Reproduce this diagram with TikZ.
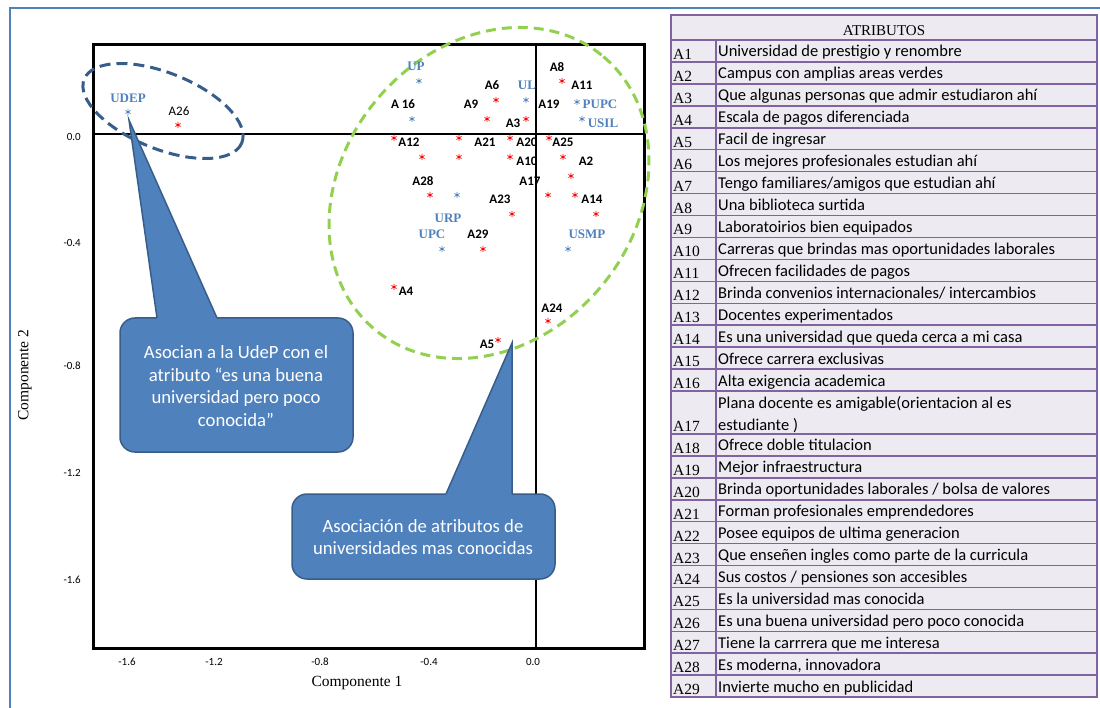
\documentclass[tikz,border=0pt]{standalone}
\usepackage{fontspec}
\setmainfont{Liberation Serif}
\newfontfamily\calibri{Carlito}
\usetikzlibrary{plotmarks}

\definecolor{udepblue}{RGB}{79,129,189}
\definecolor{calloutedge}{RGB}{56,93,138}
\definecolor{ringgreen}{RGB}{146,208,80}
\definecolor{tabpurple}{RGB}{128,100,162}
\definecolor{tabfill}{RGB}{237,235,241}
\definecolor{ptred}{RGB}{255,0,0}

\tikzset{
  attlab/.style={font=\calibri\bfseries\fontsize{13}{15}\selectfont, inner sep=0pt},
  unilab/.style={font=\bfseries\fontsize{13}{15}\selectfont, text=udepblue, inner sep=0pt},
  ticklab/.style={font=\calibri\fontsize{11}{13}\selectfont, inner sep=0pt},
  callout/.style={fill=udepblue, draw=calloutedge, line width=1.5pt},
  callouttxt/.style={font=\calibri\fontsize{18.7}{22.5}\selectfont, text=white, align=center},
  tabline/.style={tabpurple, line width=1.5pt},
  tablab/.style={font=\fontsize{15.5}{17}\selectfont, anchor=base west, inner sep=0pt},
  tabtxt/.style={font=\calibri\fontsize{16.5}{18}\selectfont, anchor=base west, inner sep=0pt},
}

\begin{document}
\begin{tikzpicture}[x=1pt,y=-1pt]
  \useasboundingbox (0,0) rectangle (1100,708);

  % Define plot frame (pixel positions)
  \def\plotL{93}  \def\plotR{644}
  \def\plotT{45}  \def\plotB{648}
  \def\zeroX{536} \def\zeroY{134}

  % Outer blue frame
  \draw[udepblue, line width=2.5pt] (10,708) -- (10,8) -- (1100,8);

  % Plot frame and axes
  \draw[line width=3pt] (\plotL,\plotT) rectangle (\plotR,\plotB);
  \draw[line width=1.2pt] (\zeroX,\plotT) -- (\zeroX,\plotB);
  \draw[line width=1.2pt] (\plotL,\zeroY) -- (\plotR,\zeroY);

  % Tick labels
  \foreach \t/\x in {-1.6/127, -1.2/214, -0.8/320, -0.4/429, 0.0/533}
    \node[ticklab] (xt\x) at (\x,662) {\t};
  \foreach \t/\y in {0.0/137, -0.4/243, -0.8/366, -1.2/473, -1.6/580}
    \node[ticklab, anchor=east] (yt\y) at (81,\y) {\t};

  % Axis titles
  \node[font=\fontsize{15.5}{18}\selectfont] (xtitle) at (357,683) {Componente 1};
  \node[font=\fontsize{15.5}{18}\selectfont, rotate=90] (ytitle) at (25,375) {Componente 2};

  % Groups
  \draw[calloutedge, line width=3pt, dash pattern=on 11pt off 6pt]
    (163,111) ellipse [x radius=85, y radius=38, rotate=-22];
  \draw[ringgreen, line width=3pt, dash pattern=on 10pt off 6pt]
    (489,193) ellipse [x radius=178, y radius=146, rotate=50];

  % Attribute markers (red) and university markers (blue)
  \foreach \x/\y in {178/125, 562/81, 496/100, 487/119, 526/119, 394/138, 459/138,
      510/138, 549/138, 422/157, 459/157, 510/157, 563/157, 571/176, 430/195,
      548/195, 575/195, 512/214, 596/214, 483/249, 394/287, 548/321, 498/340}
    \draw[ptred, line width=0.7pt] plot[mark=asterisk, mark size=3pt] coordinates {(\x,\y)};
  \foreach \x/\y in {128/112, 419/81, 526/100, 412/119, 577/102, 582/119,
      457/195, 442/249, 568/249}
    \draw[udepblue, line width=0.7pt] plot[mark=asterisk, mark size=3pt] coordinates {(\x,\y)};

  % Labels
  \foreach \n/\x/\y in {A8/557/67, A11/582/85, A6/492/85, {A 16}/403/104, A9/471/104,
      A19/549/104, A3/513/123, A12/409/142, A21/485/142, A20/527/142, A25/563/142,
      A10/527/161, A2/586/161, A28/423/181, A17/530/181, A23/500/199, A14/592/199,
      A29/478/234, A4/406/291, A24/552/308, A5/487/344}
    \node[attlab] (lab-\x-\y) at (\x,\y) {\n};
  \node[attlab, font=\calibri\fontsize{13}{15}\selectfont] (a26) at (179,111) {A26};
  \foreach \n/\x/\y in {UDEP/128/98, UP/416/66, UL/527/85, PUPC/600/104, USIL/603/123,
      URP/448/218, UPC/432/234, USMP/587/234}
    \node[unilab] (\n) at (\x,\y) {\n};

  % Callouts
  \draw[callout, rounded corners=15] (120,318) rectangle (353,452);
  \fill[udepblue] (129,120) -- (157.4,321) -- (217.9,321) -- cycle;
  \draw[calloutedge, line width=1.5pt] (157,318) -- (129,120) -- (217,318);
  \node[callouttxt] (note1) at (236,386) {Asocian a la UdeP con el\\atributo “es una buena\\universidad pero poco\\conocida”};
  \draw[callout, rounded corners=15] (292,494) rectangle (555,579);
  \fill[udepblue] (512,343) -- (444.7,497) -- (512,497) -- cycle;
  \draw[calloutedge, line width=1.5pt] (446,494) -- (512,343) -- (512,494);
  \node[callouttxt] (note2) at (423,537) {Asociación de atributos de\\universidades mas conocidas};

  % Attribute table
  \fill[tabfill] (671,15) rectangle (1097,697);
  \node[font=\fontsize{15}{17}\selectfont, anchor=base] (tabhead) at (884,36) {ATRIBUTOS};
  \draw[tabline] (671,40) -- (1097,40);
  \foreach \n/\txt in {1/{Universidad de prestigio y renombre},
      2/{Campus con amplias areas verdes},
      3/{Que algunas personas que admir estudiaron ahí},
      4/{Escala de pagos diferenciada},
      5/{Facil de ingresar},
      6/{Los mejores profesionales estudian ahí},
      7/{Tengo familiares/amigos que estudian ahí},
      8/{Una biblioteca surtida},
      9/{Laboratoirios bien equipados},
      10/{Carreras que brindas mas oportunidades laborales},
      11/{Ofrecen facilidades de pagos},
      12/{Brinda convenios internacionales/ intercambios},
      13/{Docentes experimentados},
      14/{Es una universidad que queda cerca a mi casa},
      15/{Ofrece carrera exclusivas},
      16/{Alta exigencia academica}}{
    \pgfmathsetmacro\yb{40+21.94*\n}
    \draw[tabline] (671,\yb) -- (1097,\yb);
    \node[tablab] (lab\n) at (673,\yb-2.5) {A\n};
    \node[tabtxt] (txt\n) at (718,\yb-5) {\txt};
  }
  \draw[tabline] (671,434) -- (1097,434);
  \node[tablab] (lab17) at (673,431.5) {A17};
  \node[tabtxt] (txt17a) at (718,408) {Plana docente es amigable(orientacion al es};
  \node[tabtxt] (txt17b) at (718,430) {estudiante )};
  \foreach \n/\txt in {18/{Ofrece doble titulacion},
      19/{Mejor infraestructura},
      20/{Brinda oportunidades laborales / bolsa de valores},
      21/{Forman profesionales emprendedores},
      22/{Posee equipos de ultima generacion},
      23/{Que enseñen ingles como parte de la curricula},
      24/{Sus costos / pensiones son accesibles},
      25/{Es la universidad mas conocida},
      26/{Es una buena universidad pero poco conocida},
      27/{Tiene la carrrera que me interesa},
      28/{Es moderna, innovadora},
      29/{Invierte mucho en publicidad}}{
    \pgfmathsetmacro\yb{434+21.92*(\n-17)}
    \draw[tabline] (671,\yb) -- (1097,\yb);
    \node[tablab] (lab\n) at (673,\yb-2.5) {A\n};
    \node[tabtxt] (txt\n) at (718,\yb-5) {\txt};
  }
  \draw[tabline] (716,40) -- (716,697);
  \draw[tabline] (671,15) rectangle (1097,697);

\end{tikzpicture}
\end{document}
